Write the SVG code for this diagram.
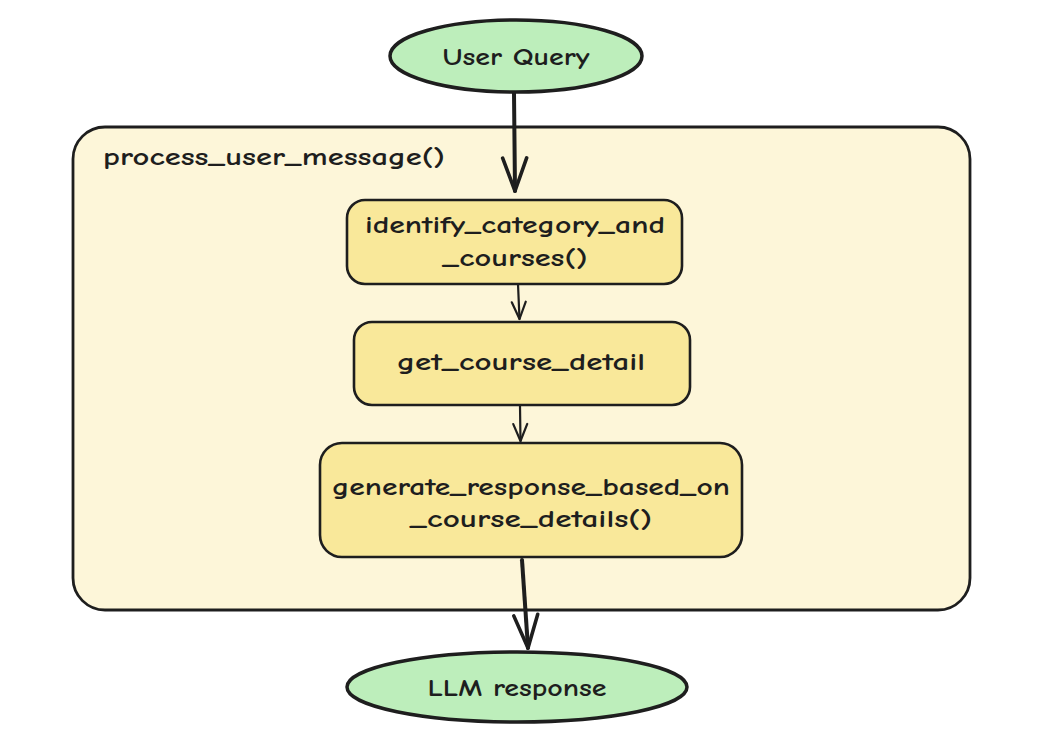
<svg xmlns="http://www.w3.org/2000/svg" width="1051" height="740" viewBox="0 0 1051 740">
  <defs>
    <style>
      .lbl { font-family: "Comic Neue", "Open Sans", "Liberation Sans", sans-serif; font-weight: bold; fill: #1e1e1e; font-size: 25px; }
      .terminal { fill: #bdeebb; stroke: #1e1e1e; stroke-width: 3.5; }
      .step { fill: #f9e89a; stroke: #1e1e1e; stroke-width: 2.6; }
      .frame { fill: #fdf6d9; stroke: #1e1e1e; stroke-width: 2.8; }
      .wire { fill: none; stroke: #1e1e1e; stroke-linecap: round; stroke-linejoin: round; }
      .heavy { stroke-width: 4; }
      .light { stroke-width: 2.2; }
    </style>
    <marker id="headBig" markerUnits="userSpaceOnUse" viewBox="-36 -16 40 32" refX="0" refY="0" markerWidth="40" markerHeight="32" orient="auto">
      <path d="M -33 -12 L 0 0 L -33 12" fill="none" stroke="#1e1e1e" stroke-width="3.6" stroke-linecap="round" stroke-linejoin="round"/>
    </marker>
    <marker id="headSmall" markerUnits="userSpaceOnUse" viewBox="-20 -10 24 20" refX="0" refY="0" markerWidth="24" markerHeight="20" orient="auto">
      <path d="M -17 -7 L 0 0 L -17 7" fill="none" stroke="#1e1e1e" stroke-width="2.2" stroke-linecap="round" stroke-linejoin="round"/>
    </marker>
  </defs>

  <rect width="1051" height="740" fill="#ffffff"/>

  <!-- enclosing function frame -->
  <g id="process_user_message">
    <rect class="frame" x="73" y="127" width="897" height="483" rx="32" ry="32"/>
    <text class="lbl" x="103" y="165" font-size="23" textLength="342" lengthAdjust="spacingAndGlyphs">process_user_message()</text>
  </g>

  <!-- connectors -->
  <g id="connectors">
    <path class="wire heavy" d="M 514 93 L 515 191" marker-end="url(#headBig)"/>
    <path class="wire light" d="M 518 284 L 519.5 319" marker-end="url(#headSmall)"/>
    <path class="wire light" d="M 520 406 L 520.5 441" marker-end="url(#headSmall)"/>
    <path class="wire heavy" d="M 522 560 L 528 648" marker-end="url(#headBig)"/>
  </g>

  <g id="user_query">
    <ellipse class="terminal" cx="516" cy="56" rx="126" ry="36"/>
    <text class="lbl" x="516" y="65" text-anchor="middle" textLength="147" lengthAdjust="spacingAndGlyphs">User Query</text>
  </g>

  <g id="identify_category_and_courses">
    <rect class="step" x="347" y="200" width="335" height="84" rx="18" ry="18"/>
    <text class="lbl" x="515" y="233" text-anchor="middle" textLength="300" lengthAdjust="spacingAndGlyphs">identify_category_and</text>
    <text class="lbl" x="515" y="266" text-anchor="middle" textLength="145" lengthAdjust="spacingAndGlyphs">_courses()</text>
  </g>

  <g id="get_course_detail">
    <rect class="step" x="354" y="322" width="336" height="83" rx="18" ry="18"/>
    <text class="lbl" x="521" y="370" text-anchor="middle" textLength="248" lengthAdjust="spacingAndGlyphs">get_course_detail</text>
  </g>

  <g id="generate_response">
    <rect class="step" x="320" y="443" width="422" height="114" rx="22" ry="22"/>
    <text class="lbl" x="531" y="495" text-anchor="middle" textLength="398" lengthAdjust="spacingAndGlyphs">generate_response_based_on</text>
    <text class="lbl" x="531" y="527" text-anchor="middle" textLength="242" lengthAdjust="spacingAndGlyphs">_course_details()</text>
  </g>

  <g id="llm_response">
    <ellipse class="terminal" cx="517" cy="687" rx="170" ry="35"/>
    <text class="lbl" x="517" y="696" text-anchor="middle" textLength="179" lengthAdjust="spacingAndGlyphs">LLM response</text>
  </g>
</svg>
